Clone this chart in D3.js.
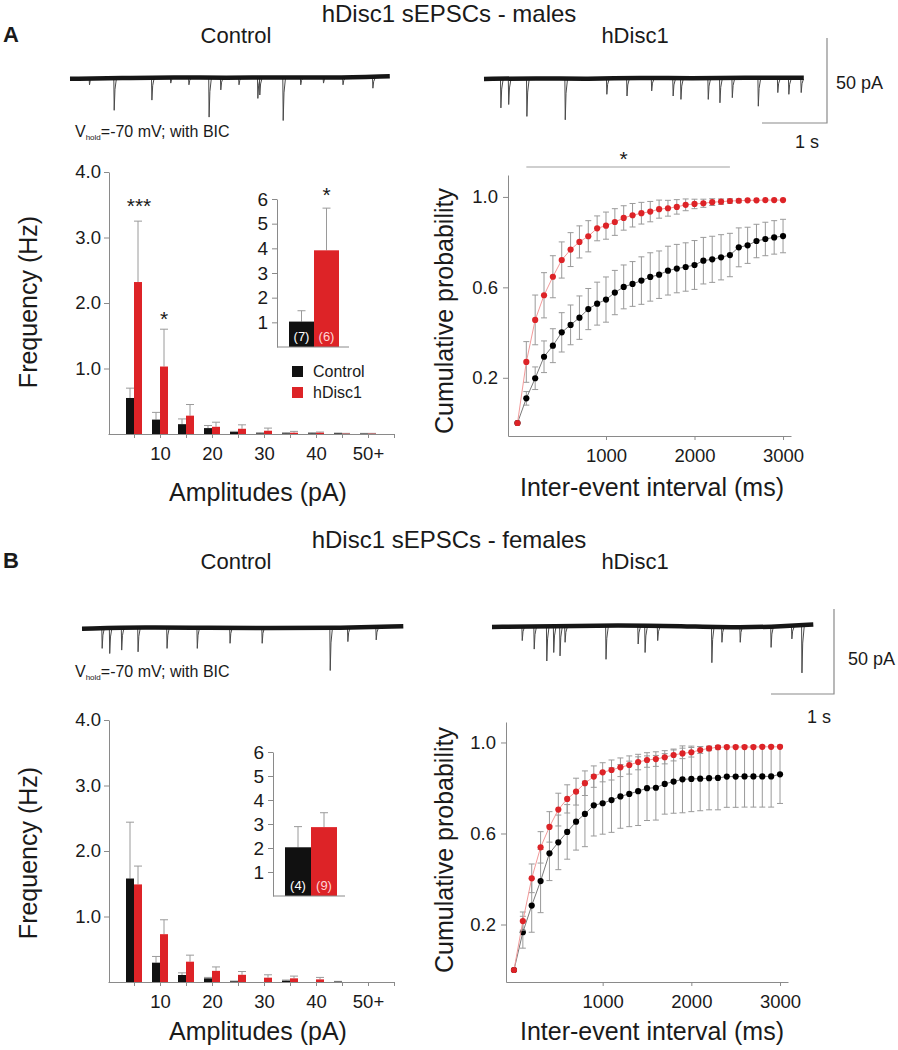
<!DOCTYPE html>
<html><head><meta charset="utf-8">
<script src="https://cdn.jsdelivr.net/npm/d3@7"></script>
<style>
body{margin:0;background:#fff}
svg{display:block}
text{font-family:'Liberation Sans',Arial,Helvetica,sans-serif;fill:#1a1a1a}
</style>
</head><body>
<svg id="fig" width="898" height="1050"></svg>
<script>
// ================= DATA =================
const ampBinCenters = [5,10,15,20,25,30,35,40,45,50];
const ampTickValues = [5,10,15,20,25,30,35,40,45,50,55];
const ampLabelPos = [10,20,30,40,50];
const ampLabelText = ["10","20","30","40","50+"];
const freqTicks = [1,2,3,4];
const freqTickLabels = ["1.0","2.0","3.0","4.0"];
const insetTicks = [1,2,3,4,5,6];
const groups = ["Control","hDisc1"];
const cumTicks = [0.2,0.6,1.0];
const cumTickLabels = ["0.2","0.6","1.0"];
const intervalTicks = [1000,2000,3000];

// Males – amplitude distribution (Hz)
const maleCtrlFreq   = [0.55,0.22,0.15,0.09,0.03,0.01,0.01,0.01,0.01,0.005];
const maleCtrlErrTop = [0.70,0.33,0.23,0.13,0.04,0.02,0.02,0.02,0.015,0.01];
const maleHdFreq     = [2.32,1.03,0.28,0.11,0.08,0.05,0.02,0.02,0.005,0.005];
const maleHdErrTop   = [3.25,1.60,0.45,0.18,0.14,0.09,0.04,0.03,0.01,0.01];
// Males – mean frequency inset
const maleMean   = [1.03,3.92];
const maleMeanErrTop = [1.47,5.63];
const maleN = ["(7)","(6)"];

// Females – amplitude distribution (Hz)
const femCtrlFreq   = [1.58,0.295,0.107,0.056,0.01,0,0.02,0,0.005,0];
const femCtrlErrTop = [2.44,0.39,0.14,0.07,0.015,0,0.03,0,0.01,0];
const femHdFreq     = [1.49,0.73,0.31,0.17,0.11,0.066,0.056,0.04,0,0];
const femHdErrTop   = [1.77,0.95,0.41,0.23,0.16,0.11,0.09,0.07,0,0];
const femMean   = [2.03,2.87];
const femMeanErrTop = [2.89,3.47];
const femN = ["(4)","(9)"];

// Cumulative probability vs inter-event interval (ms)
const intervals = [0,100,200,300,400,500,600,700,800,900,1000,1100,1200,1300,1400,1500,1600,1700,1800,1900,2000,2100,2200,2300,2400,2500,2600,2700,2800,2900,3000];
const maleHdCum  = [0.0,0.27,0.456,0.565,0.647,0.721,0.767,0.801,0.826,0.861,0.873,0.889,0.907,0.919,0.928,0.935,0.946,0.950,0.956,0.965,0.969,0.972,0.977,0.979,0.982,0.983,0.985,0.985,0.986,0.986,0.986];
const maleHdCumErr = [0,0.09,0.11,0.10,0.093,0.08,0.075,0.071,0.069,0.055,0.06,0.059,0.054,0.052,0.048,0.045,0.04,0.035,0.032,0.026,0.021,0.018,0.015,0.012,0.01,0.008,0.006,0.005,0.005,0.005,0.005];
const maleCtrlCum = [0.0,0.109,0.198,0.293,0.342,0.401,0.434,0.466,0.504,0.528,0.546,0.577,0.602,0.615,0.630,0.646,0.656,0.674,0.683,0.690,0.699,0.718,0.724,0.733,0.743,0.777,0.786,0.805,0.814,0.821,0.827];
const maleCtrlCumErr = [0,0.03,0.05,0.07,0.075,0.087,0.088,0.096,0.091,0.095,0.1,0.098,0.097,0.099,0.105,0.107,0.105,0.108,0.107,0.107,0.108,0.103,0.102,0.1,0.096,0.086,0.08,0.074,0.074,0.074,0.074];

const femHdCum  = [0.0,0.215,0.403,0.539,0.629,0.705,0.752,0.784,0.821,0.85,0.869,0.879,0.891,0.901,0.914,0.923,0.927,0.935,0.945,0.952,0.957,0.967,0.974,0.979,0.98,0.98,0.98,0.98,0.981,0.981,0.981];
const femHdCumErr = [0,0.04,0.063,0.069,0.067,0.072,0.062,0.059,0.054,0.047,0.042,0.044,0.041,0.04,0.034,0.032,0.032,0.029,0.026,0.023,0.021,0.015,0.01,0.008,0.006,0.005,0.005,0.005,0.005,0.005,0.005];
const femCtrlCum = [0.0,0.166,0.283,0.391,0.513,0.561,0.607,0.652,0.686,0.724,0.733,0.747,0.763,0.774,0.786,0.799,0.801,0.818,0.828,0.838,0.84,0.841,0.843,0.844,0.85,0.85,0.851,0.851,0.851,0.851,0.86];
const femCtrlCumErr = [0,0.07,0.117,0.139,0.12,0.12,0.12,0.125,0.144,0.135,0.136,0.142,0.14,0.144,0.151,0.142,0.142,0.133,0.139,0.147,0.144,0.141,0.139,0.14,0.135,0.135,0.135,0.135,0.135,0.135,0.128];

// Example traces: events [time s, amplitude pA], baseline drift [time s, pA]
const maleCtrlEvents = [[0.30,4],[0.68,19],[1.26,13],[1.55,3],[1.83,4],[2.14,23],[2.32,7],[2.60,4],[2.89,12],[2.92,10],[3.28,25],[3.55,4],[3.90,3],[4.20,4],[4.66,6]];
const maleCtrlDrift  = [[0,0.5],[0.8,0],[1.6,-0.5],[2.4,0],[3.2,-0.5],[4.0,0],[4.92,-1]];
const maleHdEvents = [[0.26,17],[0.38,15],[0.66,22],[1.25,24],[1.89,9],[2.20,10],[2.58,7],[2.91,10],[3.03,12],[3.45,12],[3.63,14],[3.82,11],[4.22,16],[4.52,8],[4.69,9],[4.88,8]];
const maleHdDrift  = [[0,0],[0.8,-0.5],[1.6,0],[2.4,-0.8],[3.2,-0.3],[4.0,-0.8],[4.92,-0.8]];
const femCtrlEvents = [[0.32,12],[0.44,15],[0.63,13],[0.89,14],[1.35,12],[1.83,12],[2.35,9],[2.86,9],[3.94,25],[4.22,8],[4.67,7]];
const femCtrlDrift  = [[0,0.5],[1,-0.5],[2,0],[3,0],[4,0],[5.1,-1]];
const femHdEvents = [[0.48,8],[0.67,13],[0.87,20],[0.98,15],[1.08,17],[1.16,9],[1.81,19],[2.32,10],[2.43,15],[2.63,8],[3.49,21],[3.65,9],[3.94,9],[4.43,12],[4.76,7],[4.92,27]];
const femHdDrift  = [[0,0],[1,-0.5],[2,-1],[3,-0.5],[4,0.5],[4.6,-0.5],[5.1,-1.5]];

// ================= STYLE =================
const RED = "#dd2327", BLACK = "#111", AXIS = "#8a8a8a", ERR = "#9a9a9a";
const svg = d3.select("#fig");

function styleAxis(g, fs) {
  g.select(".domain").attr("stroke", AXIS).attr("stroke-width", 1);
  g.selectAll(".tick line").attr("stroke", AXIS);
  g.selectAll(".tick text").attr("fill", "#222")
    .style("font-family", "'Liberation Sans',Arial,sans-serif").style("font-size", fs + "px");
}
function txt(x, y, s, size, opts = {}) {
  const t = svg.append("text").attr("x", x).attr("y", y).text(s)
    .style("font-size", size + "px").attr("text-anchor", opts.anchor || "start");
  if (opts.bold) t.style("font-weight", "bold");
  if (opts.fill) t.style("fill", opts.fill);
  if (opts.rotate) t.attr("transform", `rotate(-90,${x},${y})`);
  return t;
}

// ================= HEADERS =================
function header(dy, title, letter) {
  txt(449, 22 + dy, title, 24, {anchor: "middle"});
  txt(3, 42 + dy, letter, 22, {bold: true});
  txt(236, 43 + dy, "Control", 22, {anchor: "middle"});
  txt(635, 43 + dy, "hDisc1", 22, {anchor: "middle"});
}
header(0, "hDisc1 sEPSCs - males", "A");
header(526, "hDisc1 sEPSCs - females", "B");

function vhold(x, y) {
  const t = svg.append("text").attr("x", x).attr("y", y).style("font-size", "16px");
  t.append("tspan").text("V");
  t.append("tspan").attr("dy", 3).style("font-size", "8px").text("hold");
  t.append("tspan").attr("dy", -3).text("=-70 mV; with BIC");
}
vhold(75, 137);
vhold(75, 677);

// ================= TRACES =================
function trace(o) {
  const x = d3.scaleLinear().domain([0, o.dur]).range([o.x0, o.x0 + o.dur * o.pxPerS]);
  const y = d3.scaleLinear().domain([0, 50]).range([o.base, o.base + 85]);
  svg.append("g").selectAll("path").data(o.events).join("path")
    .attr("d", d => d3.line().x(p => x(p[0])).y(p => y(p[1]))([[d[0] - 0.006, 0], [d[0], d[1]], [d[0] + 0.012, d[1] * 0.35], [d[0] + 0.035, 0]]))
    .attr("fill", "none").attr("stroke", "#4a4a4a").attr("stroke-width", 1);
  svg.append("path").datum(o.drift)
    .attr("d", d3.line().x(d => x(d[0])).y(d => y(d[1])).curve(d3.curveBasis))
    .attr("fill", "none").attr("stroke", "#161616").attr("stroke-width", 4.5).attr("stroke-linecap", "butt");
}
trace({x0: 70, base: 78, dur: 4.92, pxPerS: 65, events: maleCtrlEvents, drift: maleCtrlDrift});
trace({x0: 484, base: 79, dur: 4.92, pxPerS: 65, events: maleHdEvents, drift: maleHdDrift});
trace({x0: 82, base: 628, dur: 5.1, pxPerS: 63, events: femCtrlEvents, drift: femCtrlDrift});
trace({x0: 492, base: 627, dur: 5.1, pxPerS: 63, events: femHdEvents, drift: femHdDrift});

function scaleBar(cx, cy, pxPerS, lblPA, lblS) {
  const sx = d3.scaleLinear().domain([0, 1]).range([0, pxPerS]);
  const sy = d3.scaleLinear().domain([0, 50]).range([0, 85]);
  svg.append("path").attr("d", `M${cx - sx(1)},${cy}H${cx}V${cy - sy(50)}`)
    .attr("fill", "none").attr("stroke", AXIS).attr("stroke-width", 1.2);
  txt(lblPA[0], lblPA[1], "50 pA", 18);
  txt(lblS[0], lblS[1], "1 s", 18);
}
scaleBar(827, 123, 65, [836, 89], [795, 148]);
scaleBar(834, 694, 63, [848, 665], [807, 723]);

// ================= AMPLITUDE BAR CHARTS =================
function errBar(g, xc, y0, y1, capW) {
  g.append("line").attr("x1", xc).attr("x2", xc).attr("y1", y0).attr("y2", y1).attr("stroke", ERR);
  g.append("line").attr("x1", xc - capW / 2).attr("x2", xc + capW / 2).attr("y1", y1).attr("y2", y1).attr("stroke", ERR);
}
function ampChart(o) {
  const x = d3.scaleLinear().domain([0, 55]).range([108, 394]);
  const y = d3.scaleLinear().domain([0, 4]).range([o.base, o.base - 262]);
  const g = svg.append("g");
  o.ctrl.forEach((v, i) => { if (o.ctrlErr[i] > v) errBar(g, x(ampBinCenters[i]) - 4, y(v), y(o.ctrlErr[i]), 8); });
  o.hd.forEach((v, i) => { if (o.hdErr[i] > v) errBar(g, x(ampBinCenters[i]) + 4, y(v), y(o.hdErr[i]), 8); });
  g.selectAll(".bk").data(o.ctrl).join("rect")
    .attr("x", (d, i) => x(ampBinCenters[i]) - 8).attr("width", 8)
    .attr("y", d => y(d)).attr("height", d => y(0) - y(d)).attr("fill", BLACK);
  g.selectAll(".rd").data(o.hd).join("rect")
    .attr("x", (d, i) => x(ampBinCenters[i])).attr("width", 8)
    .attr("y", d => y(d)).attr("height", d => y(0) - y(d)).attr("fill", RED);
  const gx = svg.append("g").attr("transform", `translate(0,${o.base})`)
    .call(d3.axisBottom(x).tickValues(ampTickValues).tickSize(4).tickSizeOuter(0).tickPadding(9)
      .tickFormat(d => { const i = ampLabelPos.indexOf(d); return i >= 0 ? ampLabelText[i] : ""; }));
  styleAxis(gx, 18.5);
  const gy = svg.append("g").attr("transform", "translate(109,0)")
    .call(d3.axisLeft(y).tickValues(freqTicks).tickSize(5).tickSizeOuter(0).tickPadding(3)
      .tickFormat((d, i) => freqTickLabels[i]));
  styleAxis(gy, 18.5);
  txt(37, o.labelY, "Frequency (Hz)", 25, {anchor: "middle", rotate: true});
  txt(258, o.xlabY, "Amplitudes (pA)", 25, {anchor: "middle"});
  return {x, y};
}
const aA = ampChart({base: 434, ctrl: maleCtrlFreq, ctrlErr: maleCtrlErrTop, hd: maleHdFreq, hdErr: maleHdErrTop, labelY: 302, xlabY: 501});
const aB = ampChart({base: 982, ctrl: femCtrlFreq, ctrlErr: femCtrlErrTop, hd: femHdFreq, hdErr: femHdErrTop, labelY: 853, xlabY: 1040});
txt(aA.x(5) + 5, aA.y(maleHdErrTop[0]) - 8, "***", 21, {anchor: "middle"});
txt(aA.x(10) + 4, aA.y(maleHdErrTop[1]) - 3, "*", 21, {anchor: "middle"});

// ================= INSETS =================
function inset(o) {
  const y = d3.scaleLinear().domain([0, 6]).range([o.base, o.base - o.h]);
  const x = d3.scaleBand().domain(groups).range([o.b0, o.b1]).padding(0);
  const g = svg.append("g");
  o.vals.forEach((v, i) => errBar(g, x(groups[i]) + x.bandwidth() / 2, y(v), y(o.errTop[i]), 8));
  g.selectAll("rect").data(o.vals).join("rect")
    .attr("x", (d, i) => x(groups[i])).attr("width", x.bandwidth())
    .attr("y", d => y(d)).attr("height", d => y(0) - y(d))
    .attr("fill", (d, i) => i ? RED : BLACK);
  g.selectAll("text").data(o.n).join("text")
    .attr("x", (d, i) => x(groups[i]) + x.bandwidth() / 2).attr("y", o.base - 6)
    .attr("text-anchor", "middle").style("font-size", "13px")
    .style("fill", (d, i) => i ? "#ffd6d6" : "#fff").text(d => d);
  const gy = svg.append("g").attr("transform", `translate(${o.ax},0)`)
    .call(d3.axisLeft(y).tickValues(insetTicks).tickSize(5).tickSizeOuter(0).tickPadding(4).tickFormat(d3.format("d")));
  styleAxis(gy, 19);
  svg.append("line").attr("x1", o.ax).attr("x2", o.ax + 72).attr("y1", o.base).attr("y2", o.base).attr("stroke", AXIS);
  return {x, y};
}
const iA = inset({base: 347, h: 148, b0: 289, b1: 339, ax: 277, vals: maleMean, errTop: maleMeanErrTop, n: maleN});
inset({base: 896, h: 144, b0: 285, b1: 337, ax: 273, vals: femMean, errTop: femMeanErrTop, n: femN});
txt(iA.x("hDisc1") + iA.x.bandwidth() / 2, iA.y(maleMeanErrTop[1]) - 6, "*", 21, {anchor: "middle"});

// legend (A)
svg.append("rect").attr("x", 292).attr("y", 366).attr("width", 11).attr("height", 11).attr("fill", BLACK);
svg.append("rect").attr("x", 292).attr("y", 387).attr("width", 11).attr("height", 11).attr("fill", RED);
txt(313, 377, "Control", 16);
txt(313, 398, "hDisc1", 16);

// ================= CUMULATIVE =================
function cumChart(o) {
  const x = d3.scaleLinear().domain(o.xd).range(o.xr);
  const y = d3.scaleLinear().domain(o.yd).range(o.yr);
  const gx = svg.append("g").attr("transform", `translate(0,${o.yr[0]})`)
    .call(d3.axisBottom(x).tickValues(intervalTicks).tickSize(4).tickSizeOuter(0).tickPadding(9).tickFormat(d3.format("d")));
  styleAxis(gx, 18.5);
  const gy = svg.append("g").attr("transform", `translate(${o.xr[0]},0)`)
    .call(d3.axisLeft(y).tickValues(cumTicks).tickSize(5).tickSizeOuter(0).tickPadding(5).tickFormat((d, i) => cumTickLabels[i]));
  styleAxis(gy, 18.5);
  const series = [
    {v: o.ctrl, e: o.ctrlErr, line: "#7a7a7a", dot: "#000"},
    {v: o.hd, e: o.hdErr, line: "#f29a9a", dot: RED}
  ];
  series.forEach(s => {
    const g = svg.append("g");
    s.v.forEach((v, i) => {
      if (s.e[i] > 0.006) {
        const xc = x(intervals[i]);
        g.append("line").attr("x1", xc).attr("x2", xc).attr("y1", y(v - s.e[i])).attr("y2", y(v + s.e[i])).attr("stroke", ERR);
        [v - s.e[i], v + s.e[i]].forEach(yy => g.append("line").attr("x1", xc - 3).attr("x2", xc + 3).attr("y1", y(yy)).attr("y2", y(yy)).attr("stroke", ERR));
      }
    });
    g.append("path").datum(s.v)
      .attr("d", d3.line().x((d, i) => x(intervals[i])).y(d => y(d)))
      .attr("fill", "none").attr("stroke", s.line).attr("stroke-width", 1);
    g.selectAll("circle").data(s.v).join("circle")
      .attr("cx", (d, i) => x(intervals[i])).attr("cy", d => y(d)).attr("r", 3.1).attr("fill", s.dot);
  });
  txt(453, o.ylabY, "Cumulative probability", 25, {anchor: "middle", rotate: true});
  txt(652, o.xlabY, "Inter-event interval (ms)", 25, {anchor: "middle"});
  return {x, y};
}
const cA = cumChart({xd: [-107, 3090], xr: [508, 791], yd: [-0.0575, 1.097], yr: [436, 175],
  ctrl: maleCtrlCum, ctrlErr: maleCtrlCumErr, hd: maleHdCum, hdErr: maleHdCumErr, ylabY: 311, xlabY: 496});
cumChart({xd: [-90, 3090], xr: [506, 788], yd: [-0.0527, 1.09], yr: [982, 722],
  ctrl: femCtrlCum, ctrlErr: femCtrlCumErr, hd: femHdCum, hdErr: femHdCumErr, ylabY: 850, xlabY: 1040});
svg.append("line").attr("x1", cA.x(100)).attr("x2", cA.x(2400)).attr("y1", 167).attr("y2", 167).attr("stroke", "#a0a0a0").attr("stroke-width", 1.2);
txt(cA.x(1200), 166, "*", 21, {anchor: "middle"});
</script>
</body></html>
